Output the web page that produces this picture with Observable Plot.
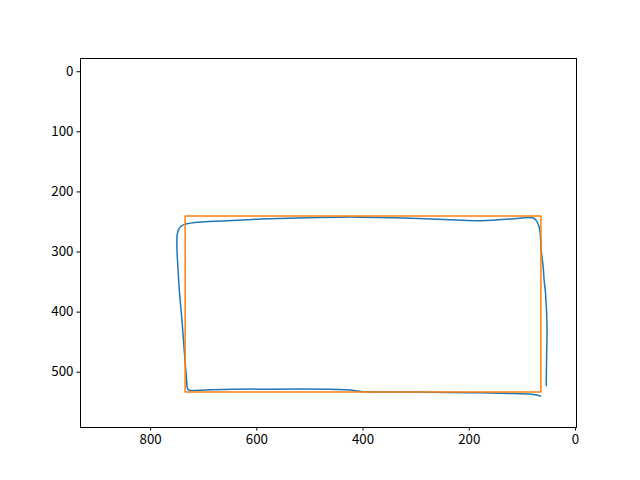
<!DOCTYPE html>
<html>
<head>
<meta charset="utf-8">
<script src="https://cdn.jsdelivr.net/npm/d3@7"></script>
<script src="https://cdn.jsdelivr.net/npm/@observablehq/plot@0.6"></script>
<style>
  html, body { margin: 0; padding: 0; background: #fff; }
  #chart { width: 640px; height: 480px; }
</style>
</head>
<body>
<div id="chart"></div>
<script>
// Traced contour (blue)
const traceX = [55, 54.4, 53.5, 56.3, 59, 60.6, 64.4, 67, 71.5, 79, 122, 185, 248, 342, 404, 442, 592, 655, 717, 736, 745, 749.8, 750.4, 748.6, 746, 741, 736.7, 732.9, 730, 727, 686, 432, 404, 300, 200, 116, 79, 66];
const traceY = [522, 480, 425, 369, 347, 326, 298, 264, 251, 243.5, 245, 248, 246, 243, 242, 242, 245, 248, 251, 254, 259, 270, 292, 325, 363, 413, 463, 505, 528, 530, 529, 529, 532, 533, 534, 535.6, 537, 539.6];
// Bounding rectangle (orange)
const rectX = [65, 735, 735, 65, 65];
const rectY = [240, 240, 533, 533, 240];
// Axis ticks
const xTicks = [0, 200, 400, 600, 800];
const yTicks = [0, 100, 200, 300, 400, 500];

const trace = traceX.map((x, i) => ({x, y: traceY[i]}));
const rect = rectX.map((x, i) => ({x, y: rectY[i]}));

const chart = Plot.plot({
  width: 640,
  height: 480,
  marginLeft: 80,
  marginRight: 64,
  marginTop: 58,
  marginBottom: 53,
  style: {fontFamily: "'Noto Sans CJK JP', 'DejaVu Sans', sans-serif", fontSize: "13.3px", color: "#000", background: "#fff"},
  x: {domain: [932, -2], ticks: xTicks, tickFormat: d3.format("d"), label: null},
  y: {domain: [592, -22], ticks: yTicks, tickFormat: d3.format("d"), label: null},
  marks: [
    Plot.line(trace, {x: "x", y: "y", stroke: "#1f77b4", strokeWidth: 1.5, curve: "catmull-rom"}),
    Plot.line(rect, {x: "x", y: "y", stroke: "#ff7f0e", strokeWidth: 1.5}),
    Plot.frame({stroke: "#000", strokeWidth: 1}),
    Plot.axisX({ticks: xTicks, tickSize: 3.5, tickPadding: 3.5, tickFormat: d3.format("d"), label: null, fontSize: 13.3}),
    Plot.axisY({ticks: yTicks, tickSize: 3.5, tickPadding: 3.5, tickFormat: d3.format("d"), label: null, fontSize: 13.3})
  ]
});
document.getElementById("chart").appendChild(chart);
</script>
</body>
</html>
